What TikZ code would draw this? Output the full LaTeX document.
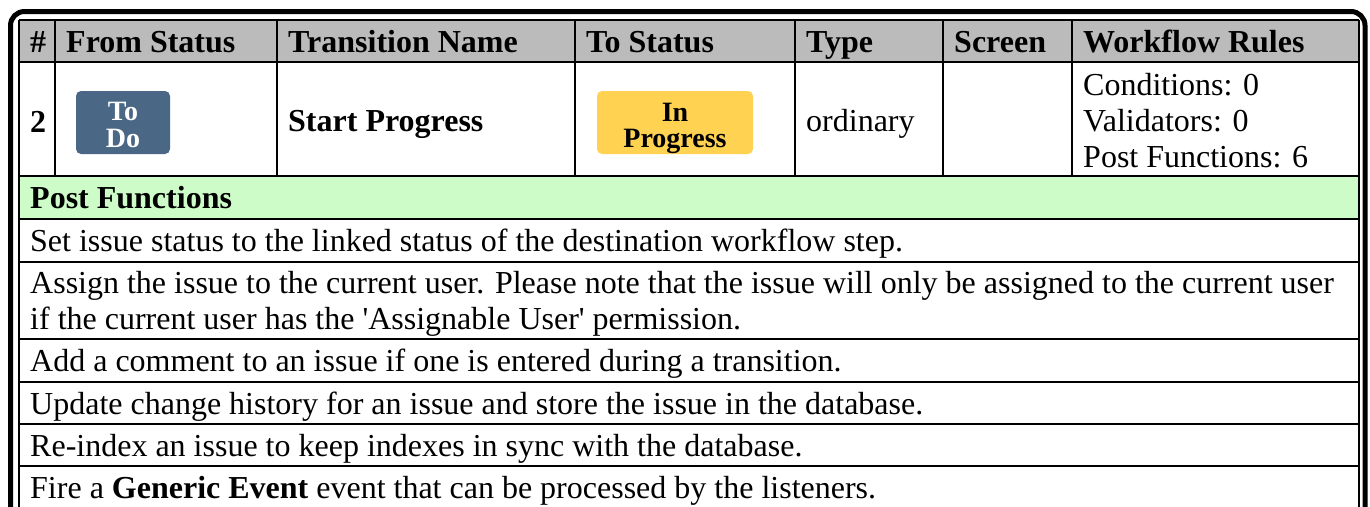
\documentclass[tikz,border=0pt]{standalone}
\usepackage{fontspec}
\setmainfont{Liberation Serif}[Ligatures=TeXOff]
\definecolor{hdgray}{RGB}{187,187,187}
\definecolor{pfgreen}{RGB}{206,252,200}
\definecolor{todoblue}{RGB}{74,103,133}
\definecolor{progyellow}{RGB}{255,211,81}
\begin{document}
\begin{tikzpicture}[x=1pt,y=-1pt,
  grid/.style={line width=2pt, draw=black},
  frame/.style={line width=5pt, draw=black, rounded corners=14pt},
  hd/.style={anchor=base west, inner sep=0pt, font=\fontsize{32}{36.8}\selectfont\bfseries},
  tx/.style={anchor=base west, inner sep=0pt, font=\fontsize{32}{36.8}\selectfont},
  bx/.style={anchor=base west, inner sep=0pt, font=\fontsize{32}{36.8}\selectfont\bfseries},
  lozenge/.style={rounded corners=5pt, minimum height=63pt, inner sep=0pt, draw=none},
  loztxt/.style={anchor=base, inner sep=0pt, font=\fontsize{28}{27}\selectfont\bfseries}
]
\useasboundingbox (0,0) rectangle (1370,506);
\clip (0,0) rectangle (1370,506);
% fills
\fill[hdgray] (19,20) rectangle (1359,62);
\fill[pfgreen] (19,176) rectangle (1359,219);
% outer frame
\draw[frame] (10.5,11.5) rectangle (1365,540);
% grid lines
\foreach \yy in {20,62,176,219,262,339,382,424,466,509}
  \draw[grid] (19,\yy) -- (1359,\yy);
\draw[grid] (19,20) -- (19,530);
\draw[grid] (1359,20) -- (1359,530);
\foreach \xx in {55,277,575,795,943,1072}
  \draw[grid] (\xx,20) -- (\xx,176);
% header
\node[hd] (h1) at (30,52) {\#};
\node[hd] (h2) at (66,52) {From Status};
\node[hd] (h3) at (288,52) {Transition Name};
\node[hd] (h4) at (586,52) {To Status};
\node[hd] (h5) at (806,52) {Type};
\node[hd] (h6) at (954,52) {Screen};
\node[hd] (h7) at (1083,52) {Workflow Rules};
% data row
\node[bx] (num) at (30,132) {2};
\node[lozenge, fill=todoblue, minimum width=94pt] (from) at (123,122.5) {};
\node[loztxt, text=white] (fromA) at (123,120.7) {To};
\node[loztxt, text=white] (fromB) at (123,147) {Do};
\node[bx] (trans) at (288,131) {Start Progress};
\node[lozenge, fill=progyellow, minimum width=156pt] (to) at (675,122.5) {};
\node[loztxt, text=black] (toA) at (675,121) {In};
\node[loztxt, text=black] (toB) at (675,147) {Progress};
\node[tx] (type) at (806,131) {ordinary};
\node[tx] (r1) at (1083,95) {Conditions: 0};
\node[tx] (r2) at (1083,131) {Validators: 0};
\node[tx] (r3) at (1083,167) {Post Functions: 6};
% post functions
\node[bx] (pf) at (30,208.5) {Post Functions};
\node[tx] (p1) at (30,251.5) {Set issue status to the linked status of the destination workflow step.};
\node[tx] (p2a) at (30,293) {Assign the issue to the current user. Please note that the issue will only be assigned to the current user};
\node[tx] (p2b) at (30,329.8) {if the current user has the 'Assignable User' permission.};
\node[tx] (p3) at (30,371.5) {Add a comment to an issue if one is entered during a transition.};
\node[tx] (p4) at (30,414) {Update change history for an issue and store the issue in the database.};
\node[tx] (p5) at (30,456) {Re-index an issue to keep indexes in sync with the database.};
\node[tx] (p6) at (30,498) {Fire a \textbf{Generic Event} event that can be processed by the listeners.};
\end{tikzpicture}
\end{document}
